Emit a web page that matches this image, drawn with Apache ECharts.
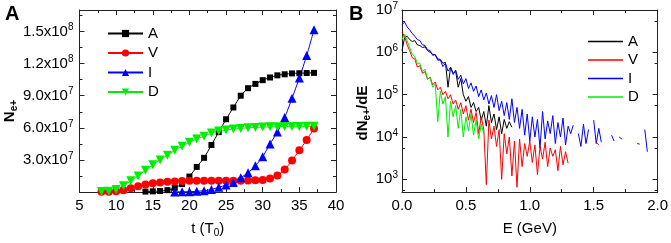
<!DOCTYPE html>
<html>
<head>
<meta charset="utf-8">
<script src="https://cdn.jsdelivr.net/npm/echarts@6.0.0/dist/echarts.min.js"></script>
<style>
  html, body { margin: 0; padding: 0; background: #fff; }
  #chart { width: 671px; height: 243px; }
</style>
</head>
<body>
<div id="chart"></div>
<script>
// panel A: number of positrons vs time
const tValues = [8, 9, 10, 11, 12, 13, 14, 15, 16, 17, 18, 19, 20, 21, 22,
  23, 24, 25, 26, 27, 28, 29, 30, 31, 32, 33, 34, 35, 36, 37];
const nA = [null, null, null, null, null, null, 0.5e6, 0.7e6, 1.0e6, 1.8e6,
  4.0e6, 7.5e6, 14.5e6, 23.5e6, 32e6, 44e6, 56e6, 68e6, 79e6, 90e6, 97e6,
  101e6, 104.5e6, 107e6, 109e6, 110e6, 110.8e6, 111e6, 111.2e6, 111.3e6];
const nV = [0.3e6, 0.4e6, 0.7e6, 1.8e6, 3.6e6, 5.4e6, 7.0e6, 8.2e6, 9.0e6,
  9.6e6, 10.0e6, 10.4e6, 10.6e6, 10.7e6, 10.7e6, 10.7e6, 10.7e6, 10.7e6,
  10.7e6, 10.7e6, 10.8e6, 11.0e6, 11.4e6, 12.6e6, 15.6e6, 21e6, 29.4e6,
  39e6, 48.6e6, 59.4e6];
const nI = [null, null, null, null, null, null, null, null, null, null, 0.2e6,
  0.3e6, 0.4e6, 0.7e6, 1.3e6, 2.4e6, 4.5e6, 6.6e6, 9e6, 13.5e6, 18e6, 24.6e6,
  33e6, 45e6, 56e6, 69.6e6, 87.6e6, 106.5e6, 127.5e6, 151.5e6];
const nD = [0.6e6, 0.9e6, 2.4e6, 6e6, 10.5e6, 15e6, 20.4e6, 25.5e6, 30e6,
  34.5e6, 39e6, 42.9e6, 46.5e6, 49.5e6, 52.2e6, 55.2e6, 57e6, 58e6, 58.8e6,
  59.4e6, 60e6, 60.4e6, 60.7e6, 60.9e6, 61.1e6, 61.2e6, 61.3e6, 61.3e6,
  61.4e6, 61.4e6];

// panel B: energy spectra
const energy = [0, 0.02, 0.04, 0.06, 0.08, 0.10, 0.12, 0.14, 0.16, 0.18,
  0.20, 0.22, 0.24, 0.26, 0.28, 0.30, 0.32, 0.34, 0.36, 0.38, 0.40, 0.42,
  0.44, 0.46, 0.48, 0.50, 0.52, 0.54, 0.56, 0.58, 0.60, 0.62, 0.64, 0.66,
  0.68, 0.70, 0.72, 0.74, 0.76, 0.78, 0.80, 0.82, 0.84, 0.86, 0.88, 0.90,
  0.92, 0.94, 0.96, 0.98, 1.00, 1.02, 1.04, 1.06, 1.08, 1.10, 1.12, 1.14,
  1.16, 1.18, 1.20, 1.22, 1.24, 1.26, 1.28, 1.30, 1.32, 1.34, 1.36, 1.38,
  1.40, 1.42, 1.44, 1.46, 1.48, 1.50, 1.52, 1.54, 1.56, 1.58, 1.60, 1.62,
  1.64, 1.66, 1.68, 1.70, 1.72, 1.74, 1.76, 1.78, 1.80, 1.82, 1.84, 1.86,
  1.88, 1.90, 1.92];
const specA = [1.1e6, 2.2e6, 2.4e6, 2.0e6, 1.8e6, 1.9e6, 1.5e6, 1.45e6,
  1.3e6, 1.35e6, 1.1e6, 1.0e6, 9.0e5, 8.8e5, 7.0e5, 6.8e5, 5.5e5, 5.8e5,
  1.5e5, 4.5e5, 3.2e5, 3.6e5, 1.5e5, 2.4e5, 1.0e5, 7.0e4, 9.0e4, 5.0e4,
  6.5e4, 4.0e4, 5.0e4, 2.5e4, 4.0e4, 1.8e4, 5.5e4, 2.2e4, 3.5e4, 1.5e4,
  3.0e4, 1.2e4, 2.6e4, 1.6e4, 2.3e4, 1.7e4];
const specV = [3.0e6, 2.4e6, 1.5e6, 1.1e6, 7.5e5, 7.0e5, 4.5e5, 4.8e5,
  3.2e5, 3.5e5, 2.3e5, 2.6e5, 1.7e5, 2.0e5, 1.3e5, 1.5e5, 1.0e5, 1.2e5,
  8.0e4, 1.0e5, 6.0e4, 7.5e4, 4.5e4, 6.5e4, 3.5e4, 5.5e4, 2.5e4, 4.5e4,
  2.2e4, 3.8e4, 1.2e4, 3.0e4, 1.5e4, 7.5e2, 2.5e4, 9.0e3, 1.8e4, 6.0e3,
  1.5e4, 1.0e3, 1.2e4, 4.0e3, 1.0e4, 1.2e3, 8.0e3, 6.5e2, 9.0e3, 2.0e3,
  7.0e3, 3.5e3, 8.0e3, 2.5e3, 6.5e3, 1.3e3, 6.0e3, 3.0e3, 7.5e3, 2.0e3,
  5.5e3, 3.5e3, 5.0e3, 1.6e3, 6.0e3, 2.2e3, 4.5e3, 2.4e3, null, null, null,
  null, null, null, null, null, null, null, 7.5e3, 6.5e3];
const specI = [4.5e6, 5.2e6, 4.0e6, 3.4e6, 2.8e6, 2.4e6, 2.0e6, 1.9e6,
  1.5e6, 1.45e6, 1.15e6, 1.1e6, 8.5e5, 8.8e5, 6.5e5, 6.6e5, 4.6e5, 5.5e5,
  3.6e5, 4.4e5, 3.0e5, 3.8e5, 2.3e5, 2.9e5, 1.8e5, 2.4e5, 1.4e5, 1.9e5,
  1.2e5, 1.6e5, 9.0e4, 1.3e5, 7.5e4, 1.1e5, 6.0e4, 9.5e4, 5.0e4, 1.0e5,
  4.2e4, 7.0e4, 3.2e4, 6.5e4, 2.6e4, 8.0e4, 2.2e4, 5.0e4, 1.6e4, 4.5e4,
  1.1e4, 3.5e4, 8.0e3, 3.0e4, 1.0e4, 2.6e4, 5.5e3, 4.0e4, 9.0e3, 2.4e4,
  1.2e4, 3.2e4, 7.0e3, 2.2e4, 1.0e4, 2.8e4, 6.5e3, 1.8e4, 1.2e4, 1.9e4,
  null, 1.2e4, 6.0e3, 2.0e4, 7.0e3, 1.5e4, null, 2.5e4, 7.0e3, 1.6e4, 7.5e3,
  null, null, null, 1.1e4, 8.0e3, null, 1.0e4, 9.0e3, null, null, null,
  null, null, 7.0e3, 6.8e3, null, 1.5e4, 4.5e3];
const specD = [2.0e6, 2.7e6, 1.9e6, 1.3e6, 9.0e5, 8.0e5, 5.5e5, 5.5e5,
  3.5e5, 4.0e5, 2.4e5, 2.5e5, 1.5e5, 1.8e5, 2.3e4, 1.2e5, 6.0e4, 9.0e4,
  1.0e4, 7.0e4, 3.0e4, 5.5e4, 1.6e4, 4.5e4, 1.0e4, 3.0e4, 1.4e4, 3.5e4,
  1.1e4, 2.5e4, 9.0e3, 2.0e4, 1.2e4];

const names = ["A", "V", "I", "D"];
const colors = ["#000000", "#ff0000", "#0000ff", "#00ee00"];
const symbols = ["rect", "circle", "triangle", "path://M0,0L10,0L5,9Z"];
const symbolSizes = [6, 8, 9, 9];
const countData = [nA, nV, nI, nD];
const specData = [specA, specV, specI, specD];

const font = "Liberation Sans";
const ink = "#000";
const axisColor = "#222";

function pairs(xs, ys) {
  return ys.map((y, i) => [xs[i], y === null ? "-" : y]);
}

function frameAxis(extra) {
  return Object.assign({
    axisLine: { show: true, onZero: false, lineStyle: { color: axisColor, width: 1 } },
    axisTick: { show: true, inside: true, length: 5, lineStyle: { color: axisColor } },
    minorTick: { show: true, splitNumber: 2, length: 3, lineStyle: { color: axisColor } },
    splitLine: { show: false },
    minorSplitLine: { show: false },
    axisLabel: { show: false }
  }, extra);
}

const labelStyle = {
  show: true,
  color: ink,
  fontFamily: font,
  fontSize: 15,
  lineHeight: 18,
  rich: {
    sup: { fontFamily: font, fontSize: 10, lineHeight: 10, verticalAlign: "top", color: ink }
  }
};
const nameStyle = {
  color: ink,
  fontFamily: font,
  fontSize: 15,
  lineHeight: 18,
  rich: {
    sub: { fontFamily: font, fontSize: 10, lineHeight: 10, verticalAlign: "bottom", color: ink }
  }
};
function yNameStyle(shift) {
  return Object.assign({}, nameStyle, {
    fontWeight: "bold",
    padding: [0, shift, 0, 0],
    rich: {
      sub: { fontFamily: font, fontSize: 10, lineHeight: 10, verticalAlign: "bottom", color: ink, fontWeight: "bold" }
    }
  });
}

const chart = echarts.init(document.getElementById("chart"));

const series = [];
for (let s = 0; s < 4; s++) {
  series.push({
    name: names[s],
    type: "line",
    xAxisIndex: 0,
    yAxisIndex: 0,
    data: pairs(tValues, countData[s]),
    symbol: symbols[s],
    symbolSize: symbolSizes[s],
    showSymbol: true,
    smooth: 0.2,
    itemStyle: { color: colors[s] },
    lineStyle: { color: colors[s], width: 1 },
    animation: false
  });
}
// draw order in panel B: A, I, V, D
[0, 2, 1, 3].forEach(function (s) {
  series.push({
    name: names[s],
    type: "line",
    xAxisIndex: 2,
    yAxisIndex: 2,
    data: pairs(energy, specData[s]),
    symbol: "none",
    showSymbol: false,
    connectNulls: false,
    itemStyle: { color: colors[s] },
    lineStyle: { color: colors[s], width: 1 },
    animation: false
  });
});

const option = {
  animation: false,
  backgroundColor: "#fff",
  graphic: [
    { type: "text", left: 5, top: 4, style: { text: "A", font: "bold 20px Liberation Sans", fill: ink } },
    { type: "text", left: 349, top: 4, style: { text: "B", font: "bold 20px Liberation Sans", fill: ink } }
  ],
  grid: [
    { left: 79, right: 335, top: 10, bottom: 43 },
    { left: 402, right: 12, top: 10, bottom: 43 }
  ],
  legend: [
    {
      data: names,
      orient: "vertical",
      left: 107,
      top: 26,
      padding: 0,
      itemWidth: 35,
      itemHeight: 9,
      itemGap: 4.5,
      textStyle: { fontFamily: font, fontSize: 15, color: ink }
    },
    {
      data: names,
      orient: "vertical",
      left: 588,
      top: 34,
      padding: 0,
      icon: "rect",
      itemWidth: 35,
      itemHeight: 1.5,
      itemGap: 3.5,
      textStyle: { fontFamily: font, fontSize: 15, color: ink }
    }
  ],
  xAxis: [
    frameAxis({
      gridIndex: 0, type: "value", position: "bottom", min: 5, max: 40, interval: 5,
      name: "t (T{sub|0})", nameLocation: "middle", nameGap: 21, nameTextStyle: nameStyle,
      axisLabel: Object.assign({}, labelStyle, { margin: 5 })
    }),
    frameAxis({ gridIndex: 0, type: "value", position: "top", min: 5, max: 40, interval: 5 }),
    frameAxis({
      gridIndex: 1, type: "value", position: "bottom", min: 0, max: 2, interval: 0.5,
      name: "E (GeV)", nameLocation: "middle", nameGap: 21, nameTextStyle: nameStyle,
      axisLabel: Object.assign({}, labelStyle, {
        margin: 5,
        formatter: function (v) { return v.toFixed(1); }
      })
    }),
    frameAxis({ gridIndex: 1, type: "value", position: "top", min: 0, max: 2, interval: 0.5 })
  ],
  yAxis: [
    frameAxis({
      gridIndex: 0, type: "value", position: "left", min: 0, max: 1.7e8, interval: 3e7,
      name: "N{sub|e+}", nameLocation: "middle", nameRotate: 90, nameGap: 48,
      nameTextStyle: yNameStyle(20),
      axisLabel: Object.assign({}, labelStyle, {
        margin: 6,
        showMinLabel: false,
        showMaxLabel: false,
        formatter: function (v) {
          if (v <= 0 || v > 1.6e8) return "";
          const e = Math.floor(Math.log10(v) + 1e-9);
          return (v / Math.pow(10, e)).toFixed(1) + "x10{sup|" + e + "}";
        }
      })
    }),
    frameAxis({ gridIndex: 0, type: "value", position: "right", min: 0, max: 1.7e8, interval: 3e7 }),
    frameAxis({
      gridIndex: 1, type: "log", logBase: 10, position: "left", min: 500, max: 1e7,
      name: "dN{sub|e+}/dE", nameLocation: "middle", nameRotate: 90, nameGap: 30,
      nameTextStyle: yNameStyle(24),
      axisLabel: Object.assign({}, labelStyle, {
        margin: 4,
        showMinLabel: false,
        formatter: function (v) {
          const e = Math.log10(v);
          if (Math.abs(e - Math.round(e)) > 1e-6) return "";
          return "10{sup|" + Math.round(e) + "}";
        }
      })
    }),
    frameAxis({ gridIndex: 1, type: "log", logBase: 10, position: "right", min: 500, max: 1e7 })
  ],
  series: series
};

chart.setOption(option);
</script>
</body>
</html>
